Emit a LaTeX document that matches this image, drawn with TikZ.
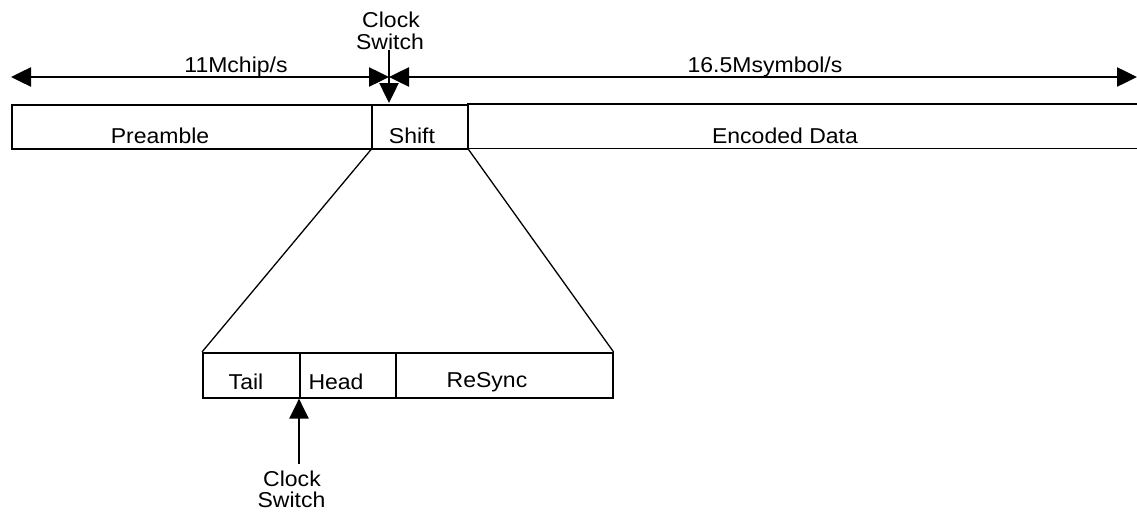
\documentclass[tikz,border=0pt]{standalone}
\usepackage{fontspec}
\setmainfont[FakeStretch=1.07]{Liberation Sans}
\usetikzlibrary{arrows.meta}
\begin{document}
\begin{tikzpicture}[x=1pt,y=-1pt,
  box/.style={draw, line width=1.6pt, inner sep=0pt, anchor=north west, minimum height=44pt},
  lbl/.style={font=\fontsize{21.5}{21}\selectfont, inner sep=0pt, anchor=base, align=center},
  arr/.style={line width=2.5pt, -{Triangle[length=20pt,width=19pt]}},
  twoarr/.style={line width=2.5pt, {Triangle[length=20pt,width=19pt]}-{Triangle[length=20pt,width=19pt]}},
  link/.style={line width=1.3pt}]
\useasboundingbox (0,0) rectangle (1137,511);
% top bar
\node[box, minimum width=360pt] (pre) at (11,104) {};
\node[box, minimum width=96pt] (shift) at (371,104) {};
\node[inner sep=0pt, anchor=north west, minimum width=670pt, minimum height=44pt] (enc) at (467,104) {};
\draw[line width=1.6pt] (enc.north west) -- (enc.north east) (enc.south west) -- (enc.south east);
\node[lbl] (tpre) at (160,143) {Preamble};
\node[lbl] (tshift) at (412,143) {Shift};
\node[lbl] (tenc) at (785,143) {Encoded Data};
% rate arrows
\coordinate (aL) at (11,77);
\coordinate (aM) at (389,77);
\coordinate (aR) at (1137,77);
\draw[twoarr] (aL) -- (aM);
\draw[twoarr] (aM) -- (aR);
\node[lbl] (r1) at (236,72) {11Mchip/s};
\node[lbl] (r2) at (765,72) {16.5Msymbol/s};
% top clock switch
\node[lbl] (cs1a) at (391,28) {Clock};
\node[lbl] (cs1b) at (390,49) {Switch};
\coordinate (cs1s) at (389,50);
\coordinate (cs1e) at (389,103);
\draw[arr] (cs1s) -- (cs1e);
% lower bar
\node[box, minimum width=97pt, minimum height=45pt] (tail) at (202,352) {};
\node[box, minimum width=96pt, minimum height=45pt] (head) at (299,352) {};
\node[box, minimum width=217pt, minimum height=45pt] (resync) at (395,352) {};
\node[lbl] (ttail) at (246,389) {Tail};
\node[lbl] (thead) at (336,389) {Head};
\node[lbl] (tresync) at (487,387) {ReSync};
% zoom lines
\draw[link] (shift.south west) -- (tail.north west);
\draw[link] (shift.south east) -- (resync.north east);
% bottom clock switch
\coordinate (cs2s) at (299,464);
\draw[arr] (cs2s) -- (head.south west);
\node[lbl] (cs2a) at (292,486) {Clock};
\node[lbl] (cs2b) at (291.5,507) {Switch};
\end{tikzpicture}
\end{document}
